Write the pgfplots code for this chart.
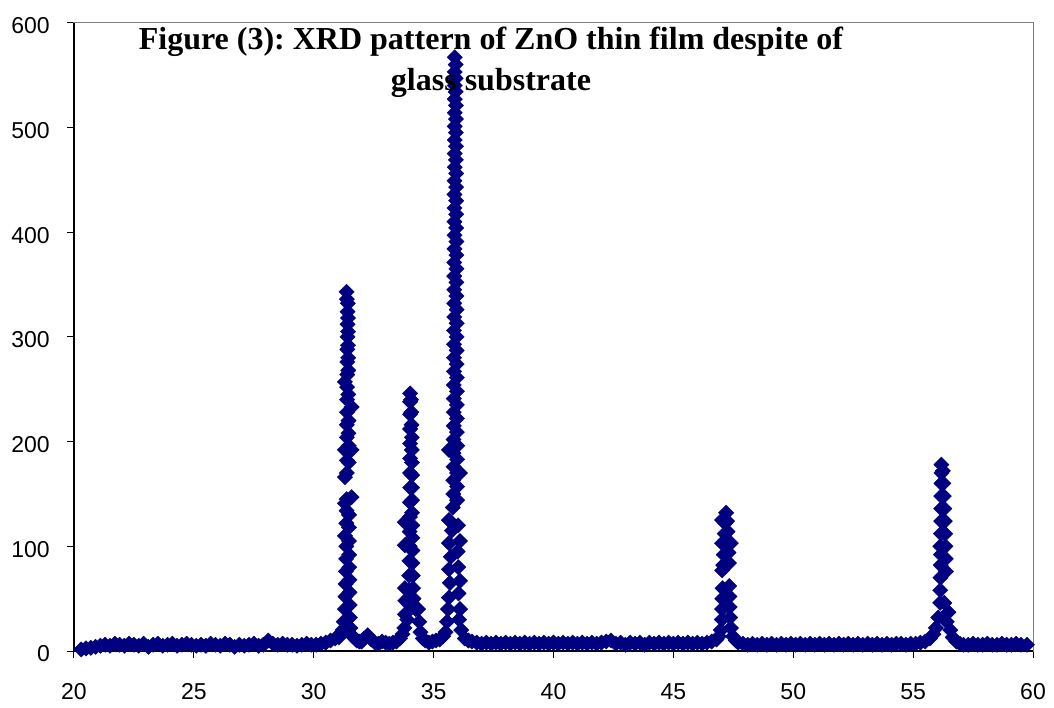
\documentclass[border=0pt]{standalone}
\usepackage{pgfplots}
\pgfplotsset{compat=1.18}
\usepackage{fontspec}
\setmainfont{Liberation Sans}
\newfontfamily\titlefont{Liberation Serif}
\definecolor{navy}{RGB}{0,0,128}
\definecolor{boxgray}{RGB}{128,128,128}
\frenchspacing
\begin{document}
\begin{tikzpicture}
\useasboundingbox (0pt,0pt) rectangle (1054pt,707pt);
\begin{axis}[
  at={(74pt,56pt)}, anchor=south west,
  scale only axis, width=959pt, height=628.3pt,
  xmin=20, xmax=60, ymin=0, ymax=600,
  xtick={20,25,...,60}, ytick={0,100,...,600},
  xtick pos=left, ytick pos=left,
  tick align=outside, major tick length=7pt,
  tick style={black, line width=1pt},
  axis line style={draw=boxgray, line width=1pt},
  clip=false,
  tick label style={font=\fontsize{23}{23}\selectfont, inner sep=0pt},
  /pgf/number format/assume math mode=true,
  yticklabel style={anchor=east, xshift=-17pt, yshift=-3pt},
  xticklabel style={anchor=north, yshift=-25pt},
]
\draw[black, line width=1.4pt] (rel axis cs:0,1) -- (rel axis cs:0,0) -- (rel axis cs:1,0);
\addplot[only marks, mark=square*, mark size=5.4pt, mark options={rotate=45, draw=navy, fill=navy}, color=navy] table {
x y
20.3 1.5
20.5 2.5
20.7 3
20.9 4
21.1 5
21.3 6
21.5 5
21.7 7
21.9 6
22.1 5
22.3 7
22.5 6
22.7 5
22.9 7
23.1 4
23.3 6
23.5 7
23.7 5
23.9 6
24.1 7
24.3 5
24.5 6
24.7 7
24.9 6
25.1 5
25.3 6
25.5 5
25.7 7
25.9 6
26.1 5
26.3 7
26.5 6
26.7 4
26.9 6
27.1 5
27.3 6
27.5 7
27.7 5
27.9 6
28.1 10
28.3 7
28.5 6
28.7 7
28.9 6
29.1 6
29.3 5
29.5 6
29.7 7
29.9 6
30.1 6
30.3 7
30.5 8
30.7 10
30.9 12
31.05 13
31.12 16
31.20 20
31.25 28
31.30 40
31.32 52
31.33 64
31.34 76
31.35 88
31.30 110
31.36 100
31.36 122
31.37 134
31.30 141
31.37 145
31.30 166
31.38 170
31.38 182
31.30 192
31.38 204
31.38 216
31.39 228
31.39 240
31.30 257
31.39 252
31.40 264
31.40 276
31.40 288
31.41 300
31.41 312
31.41 324
31.38 336
31.37 343
31.42 332
31.43 318
31.43 305
31.43 292
31.44 280
31.44 268
31.44 245
31.58 233
31.45 220
31.45 208
31.58 192
31.46 196
31.46 180
31.58 147
31.47 130
31.47 118
31.47 105
31.48 92
31.48 80
31.49 68
31.49 56
31.50 44
31.51 32
31.53 22
31.62 14
31.72 12
31.80 10
31.90 9
32.00 9
32.10 12
32.25 15
32.40 11
32.55 8
32.70 7
32.85 9
33.00 8
33.15 7
33.30 8
33.45 9
33.60 12
33.70 16
33.78 22
33.80 35
33.80 60
33.80 101
33.80 123
33.82 48
33.90 30
33.95 45
33.97 58
33.98 72
33.99 86
34.00 100
34.00 114
34.01 128
34.01 142
34.02 156
34.02 170
34.02 184
34.02 198
34.02 212
34.02 226
34.02 238
34.02 246
34.06 240
34.07 228
34.08 216
34.09 204
34.09 192
34.10 180
34.10 168
34.10 156
34.10 144
34.10 132
34.11 120
34.11 108
34.12 96
34.12 84
34.13 72
34.14 60
34.16 50
34.25 40
34.35 40
34.40 28
34.45 18
34.55 12
34.65 10
34.80 8
34.95 9
35.10 10
35.25 11
35.40 14
35.50 18
35.56 28
35.60 40
35.64 51
35.64 78
35.64 103
35.64 125
35.64 192
35.68 65
35.72 90
35.76 115
35.80 137
35.82 150
35.82 163
35.83 176
35.83 189
35.83 202
35.84 215
35.84 228
35.84 241
35.84 254
35.85 267
35.85 280
35.85 293
35.85 306
35.86 319
35.86 332
35.86 345
35.86 358
35.86 371
35.87 384
35.87 397
35.87 410
35.87 423
35.87 436
35.87 449
35.88 462
35.88 475
35.88 488
35.88 501
35.88 514
35.88 527
35.88 540
35.88 553
35.88 567
35.92 560
35.92 547
35.92 534
35.93 521
35.93 508
35.93 495
35.93 482
35.93 469
35.94 456
35.94 443
35.94 430
35.94 417
35.94 404
35.95 391
35.95 378
35.95 365
35.95 352
35.95 339
35.96 326
35.96 313
35.96 300
35.96 287
35.96 274
35.97 261
35.97 248
35.97 235
35.97 222
35.97 209
35.98 196
35.98 183
35.98 170
35.98 157
35.98 144
36.10 170
36.10 105
36.10 67
36.10 40
36.02 120
36.00 95
36.03 80
36.04 55
36.06 30
36.15 20
36.30 12
36.45 10
36.6 9
36.8 8
37.0 7
37.2 8
37.4 7
37.6 8
37.8 7
38.0 8
38.2 7
38.4 8
38.6 7
38.8 8
39.0 7
39.2 8
39.4 7
39.6 8
39.8 7
40.0 8
40.2 7
40.4 8
40.6 7
40.8 8
41.0 7
41.2 8
41.4 7
41.6 8
41.8 7
42.0 8
42.2 9
42.4 10
42.6 7
42.8 8
43.0 6
43.2 8
43.4 7
43.6 8
43.8 6
44.0 8
44.2 7
44.4 8
44.6 7
44.8 8
45.0 7
45.2 8
45.4 7
45.6 8
45.8 7
46.0 8
46.2 7
46.4 8
46.6 9
46.8 11
46.90 14
46.98 20
47.02 30
47.03 40
47.04 50
47.05 60
47.03 77
47.03 103
47.03 125
47.08 82
47.10 92
47.12 102
47.14 112
47.16 122
47.20 132
47.24 124
47.26 114
47.28 104
47.40 103
47.30 94
47.32 84
47.33 62
47.34 52
47.35 42
47.37 32
47.40 22
47.48 14
47.60 10
47.7 8
47.9 7
48.1 6
48.3 7
48.5 6
48.7 7
48.9 6
49.1 7
49.3 6
49.5 7
49.7 6
49.9 7
50.1 6
50.3 7
50.5 6
50.7 7
50.9 6
51.1 7
51.3 6
51.5 7
51.7 6
51.9 7
52.1 6
52.3 7
52.5 6
52.7 7
52.9 6
53.1 7
53.3 6
53.5 7
53.7 6
53.9 7
54.1 6
54.3 7
54.5 7
54.7 6
54.9 7
55.1 7
55.3 8
55.5 9
55.7 12
55.85 16
55.95 22
56.05 32
56.13 46
56.13 58
56.13 100
56.14 70
56.15 82
56.16 92
56.16 112
56.17 124
56.17 136
56.17 148
56.18 160
56.18 170
56.18 178
56.24 172
56.26 160
56.28 148
56.30 136
56.32 124
56.34 112
56.35 100
56.36 88
56.37 76
56.30 46
56.47 37
56.40 28
56.55 20
56.65 13
56.80 9
56.95 7
57.1 6
57.3 6
57.5 7
57.7 6
57.9 6
58.1 7
58.3 6
58.5 6
58.7 7
58.9 6
59.1 6
59.3 7
59.5 6
59.75 6
};
\end{axis}
\node[anchor=base, inner sep=0pt, font=\titlefont\bfseries\fontsize{32}{38}\selectfont] at (491pt,657.7pt) {Figure (3): XRD pattern of ZnO thin film despite of};
\node[anchor=base, inner sep=0pt, font=\titlefont\bfseries\fontsize{32}{38}\selectfont] at (491pt,616pt) {glass substrate};
\end{tikzpicture}
\end{document}
